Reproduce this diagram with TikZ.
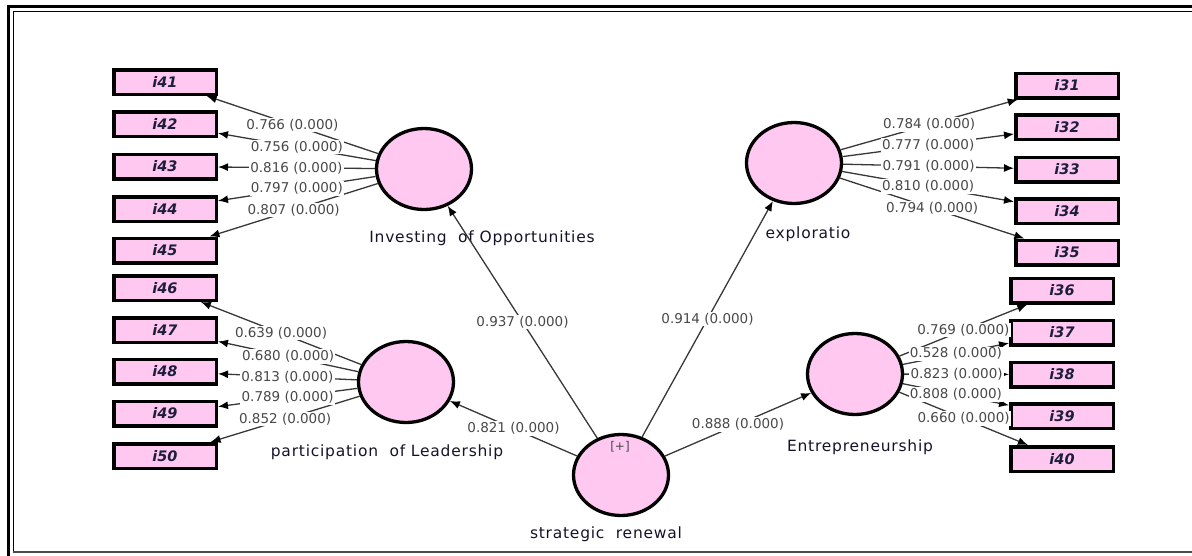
\documentclass[tikz,border=0pt]{standalone}
\usepackage{fontspec}
\setmainfont{DejaVu Sans}
\newfontfamily\clfont[LetterSpace=5]{DejaVu Sans}
\usetikzlibrary{shapes.geometric,arrows.meta}
\definecolor{pinkfill}{RGB}{255,200,240}
\definecolor{coefgray}{RGB}{72,72,72}
\definecolor{linegray}{RGB}{55,55,55}
\definecolor{labeldark}{RGB}{20,20,40}
\definecolor{boxtext}{RGB}{30,30,60}
\begin{document}
\begin{tikzpicture}[x=1pt,y=-1pt,
 lat/.style={ellipse, draw=black, line width=3.3pt, fill=pinkfill, minimum width=95pt, minimum height=81pt, inner sep=0pt},
 ind/.style={rectangle, draw=black, line width=3.5pt, fill=pinkfill, minimum width=102.5pt, minimum height=24.5pt, inner sep=0pt, font=\fontsize{14.5}{14.5}\selectfont\bfseries\itshape, text=boxtext},
 arr/.style={draw=linegray, line width=1.3pt, -{Latex[length=10pt,width=8pt,black]}},
 coef/.style={fill=white, inner sep=1.2pt, text=coefgray, font=\fontsize{13.5}{13.5}\selectfont},
 clab/.style={text=labeldark, font=\clfont\fontsize{15.5}{15.5}\selectfont, inner sep=0pt}]
\useasboundingbox (0,0) rectangle (1192,555);
% frame
\draw[line width=3.3pt] (8.3,560) -- (8.3,6.7) -- (1200,6.7);
\draw[line width=1pt] (13.3,551) -- (13.3,11.7) -- (1200,11.7);
\draw[line width=2pt, draw=gray!60!black] (12.8,551.5) -- (1200,551.5);

% latent variables
\node[lat] (Inv) at (424,169) {};
\node[lat] (Exp) at (794,163) {};
\node[lat] (Par) at (406,382) {};
\node[lat] (Ent) at (855,374) {};
\node[lat] (SR) at (621,475) {};
\node[font=\fontsize{12}{12}\selectfont, text=coefgray, inner sep=0pt] (plus) at (620,447) {[+]};

% construct labels
\node[clab] (lInv) at (482,238) {Investing\ \ of\ Opportunities};
\node[clab] (lExp) at (808,234) {exploratio};
\node[clab] (lPar) at (387,452) {participation\ \ of\ Leadership};
\node[clab] (lEnt) at (860,447) {Entrepreneurship};
\node[clab] (lSR) at (606,534) {strategic\ \ renewal};

% indicators left
\foreach \n/\y in {41/82,42/124,43/166.5,44/209,45/250.5,46/288,47/330,48/371.5,49/413.5,50/456}
  \node[ind] (i\n) at (165,\y) {i\n};
% indicators right
\foreach \n/\y in {31/85.5,32/127,33/169.5,34/211,35/252.5}
  \node[ind] (i\n) at (1067,\y) {i\n};
\foreach \n/\y in {36/290.5,37/332.5,38/374.5,39/416,40/459}
  \node[ind] (i\n) at (1062,\y) {i\n};

% lines
\foreach \a/\b/\v in {Inv/i41/0.766,Inv/i42/0.756,Inv/i43/0.816,Inv/i44/0.797,Inv/i45/0.807,
  Par/i46/0.639,Par/i47/0.680,Par/i48/0.813,Par/i49/0.789,Par/i50/0.852,
  Exp/i31/0.784,Exp/i32/0.777,Exp/i33/0.791,Exp/i34/0.810,Exp/i35/0.794,
  Ent/i36/0.769,Ent/i37/0.528,Ent/i38/0.823,Ent/i39/0.808,Ent/i40/0.660,
  SR/Inv/0.937,SR/Exp/0.914,SR/Par/0.821,SR/Ent/0.888}
  \draw[arr] (\a) -- (\b);
% labels
\foreach \a/\b/\v in {Inv/i41/0.766,Inv/i42/0.756,Inv/i43/0.816,Inv/i44/0.797,Inv/i45/0.807,
  Par/i46/0.639,Par/i47/0.680,Par/i48/0.813,Par/i49/0.789,Par/i50/0.852,
  Exp/i31/0.784,Exp/i32/0.777,Exp/i33/0.791,Exp/i34/0.810,Exp/i35/0.794,
  Ent/i36/0.769,Ent/i37/0.528,Ent/i38/0.823,Ent/i39/0.808,Ent/i40/0.660,
  SR/Inv/0.937,SR/Exp/0.914,SR/Par/0.821,SR/Ent/0.888}
  \path (\a) -- node[coef] {\v\ (0.000)} (\b);
\end{tikzpicture}
\end{document}
